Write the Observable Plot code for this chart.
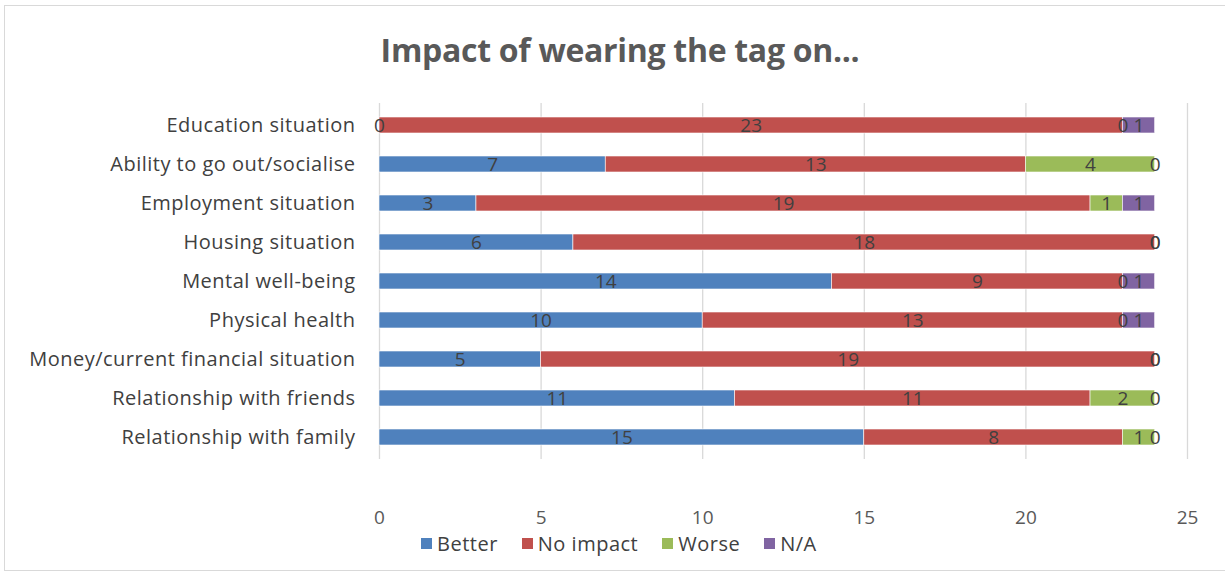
<!DOCTYPE html>
<html>
<head>
<meta charset="utf-8">
<script src="https://cdn.jsdelivr.net/npm/d3@7"></script>
<script src="https://cdn.jsdelivr.net/npm/@observablehq/plot@0.6"></script>
<style>
  html, body { margin: 0; padding: 0; background: #fff; }
  #wrap { position: relative; width: 1225px; height: 575px; overflow: hidden; font-family: "Open Sans", sans-serif; }
  #frame { position: absolute; left: 4px; top: 5px; width: 1240px; height: 566px; border: 1px solid #d9d9d9; box-sizing: border-box; }
  #title { position: absolute; left: 0; width: 1240px; top: 28px; text-align: center; font-weight: bold; font-size: 32px; color: #595959; letter-spacing: -0.3px; }
  #chart { position: absolute; left: 0; top: 90px; }
  #legend { position: absolute; left: 421px; top: 530px; display: flex; gap: 24px; font-size: 20px; letter-spacing: 0.5px; color: #404040; }
  #legend .item { display: flex; align-items: center; }
  #legend .sw { width: 11px; height: 11px; margin-right: 5px; }
</style>
</head>
<body>
<div id="wrap">
  <div id="frame"></div>
  <div id="title">Impact of wearing the tag on...</div>
  <div id="chart"></div>
  <div id="legend"></div>
</div>
<script>
const categories = [
  "Education situation",
  "Ability to go out/socialise",
  "Employment situation",
  "Housing situation",
  "Mental well-being",
  "Physical health",
  "Money/current financial situation",
  "Relationship with friends",
  "Relationship with family"
];
const better   = [0, 7, 3, 6, 14, 10, 5, 11, 15];
const noImpact = [23, 13, 19, 18, 9, 13, 19, 11, 8];
const worse    = [0, 4, 1, 0, 0, 0, 0, 2, 1];
const na       = [1, 0, 1, 0, 1, 1, 0, 0, 0];
const seriesNames = ["Better", "No impact", "Worse", "N/A"];
const seriesColors = ["#4F81BD", "#C0504D", "#9BBB59", "#8064A2"];
const xTicks = [0, 5, 10, 15, 20, 25];

const seriesValues = [better, noImpact, worse, na];
const rows = [];
categories.forEach((c, i) => {
  seriesNames.forEach((s, j) => {
    rows.push({category: c, series: s, value: seriesValues[j][i]});
  });
});

const chart = Plot.plot({
  width: 1225,
  height: 440,
  marginLeft: 379,
  marginRight: 38,
  marginTop: 13,
  marginBottom: 71,
  style: {fontFamily: "Open Sans, sans-serif", fontSize: "19px", color: "#404040", background: "transparent"},
  x: {domain: [0, 25], ticks: xTicks, label: null},
  y: {domain: categories, label: null, paddingInner: 0.59, paddingOuter: 0.295},
  color: {domain: seriesNames, range: seriesColors},
  marks: [
    Plot.ruleX(xTicks, {stroke: "#d9d9d9", strokeWidth: 1.3}),
    Plot.barX(rows, Plot.stackX({x: "value", y: "category", fill: "series", z: "series", stroke: "#ffffff", strokeWidth: 0.6, inset: 0})),
    Plot.text(rows, Plot.stackX({x: "value", y: "category", z: "series", text: d => String(d.value), fill: "#404040", fontSize: 19})),
    Plot.axisX({ticks: xTicks, tickSize: 0, tickPadding: 51, fontSize: 19, fill: "#595959", label: null}),
    Plot.axisY({tickSize: 0, tickPadding: 24, fontSize: 20, fill: "#404040", label: null})
  ]
});
chart.querySelectorAll("g[aria-label='y-axis tick label'] text").forEach(t => t.setAttribute("letter-spacing", "0.5"));
document.getElementById("chart").appendChild(chart);

const legend = document.getElementById("legend");
seriesNames.forEach((s, i) => {
  const it = document.createElement("div");
  it.className = "item";
  const sw = document.createElement("span");
  sw.className = "sw";
  sw.style.background = seriesColors[i];
  const tx = document.createElement("span");
  tx.textContent = s;
  it.appendChild(sw);
  it.appendChild(tx);
  legend.appendChild(it);
});
</script>
</body>
</html>
